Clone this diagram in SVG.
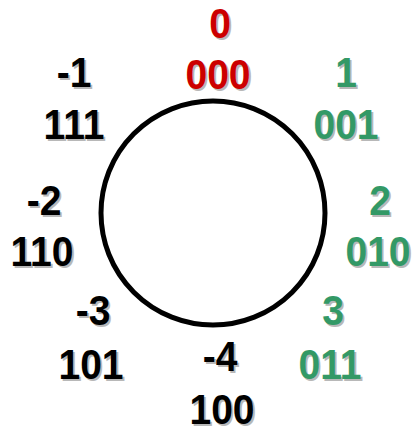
<svg xmlns="http://www.w3.org/2000/svg" width="417" height="430" viewBox="0 0 417 430">
<style>
text{font-family:"Liberation Sans",Arial,sans-serif;font-weight:bold;font-size:42px;text-anchor:middle}
.sh{fill:#b8b8b8}
.r{fill:#cc0000}.g{fill:#339966}.k{fill:#000}
</style>
<rect width="417" height="430" fill="#fff"/>
<g id="ring"><circle cx="213" cy="213" r="112" fill="none" stroke="#000" stroke-width="5"/></g>
<g id="connectors"/>
<g id="n0">
<g transform="translate(220,38) scale(0.93,1)"><text class="sh" x="2" y="2">0</text><text class="r">0</text></g>
<g transform="translate(218,89) scale(0.93,1)"><text class="sh" x="2" y="2">000</text><text class="r">000</text></g>
</g>
<g id="n1">
<g transform="translate(346,87) scale(0.93,1)"><text class="sh" x="2" y="2">1</text><text class="g">1</text></g>
<g transform="translate(346,139) scale(0.93,1)"><text class="sh" x="2" y="2">001</text><text class="g">001</text></g>
</g>
<g id="n2">
<g transform="translate(380,215) scale(0.93,1)"><text class="sh" x="2" y="2">2</text><text class="g">2</text></g>
<g transform="translate(378,266) scale(0.93,1)"><text class="sh" x="2" y="2">010</text><text class="g">010</text></g>
</g>
<g id="n3">
<g transform="translate(333,325) scale(0.93,1)"><text class="sh" x="2" y="2">3</text><text class="g">3</text></g>
<g transform="translate(330,379) scale(0.93,1)"><text class="sh" x="2" y="2">011</text><text class="g">011</text></g>
</g>
<g id="nm4">
<g transform="translate(220,371) scale(0.93,1)"><text class="sh" x="2" y="2">-4</text><text class="k">-4</text></g>
<g transform="translate(222,424) scale(0.93,1)"><text class="sh" x="2" y="2">100</text><text class="k">100</text></g>
</g>
<g id="nm3">
<g transform="translate(93,325) scale(0.93,1)"><text class="sh" x="2" y="2">-3</text><text class="k">-3</text></g>
<g transform="translate(91,379) scale(0.93,1)"><text class="sh" x="2" y="2">101</text><text class="k">101</text></g>
</g>
<g id="nm2">
<g transform="translate(44,215) scale(0.93,1)"><text class="sh" x="2" y="2">-2</text><text class="k">-2</text></g>
<g transform="translate(42,266) scale(0.93,1)"><text class="sh" x="2" y="2">110</text><text class="k">110</text></g>
</g>
<g id="nm1">
<g transform="translate(74,87) scale(0.93,1)"><text class="sh" x="2" y="2">-1</text><text class="k">-1</text></g>
<g transform="translate(74,139) scale(0.93,1)"><text class="sh" x="2" y="2">111</text><text class="k">111</text></g>
</g>
</svg>
